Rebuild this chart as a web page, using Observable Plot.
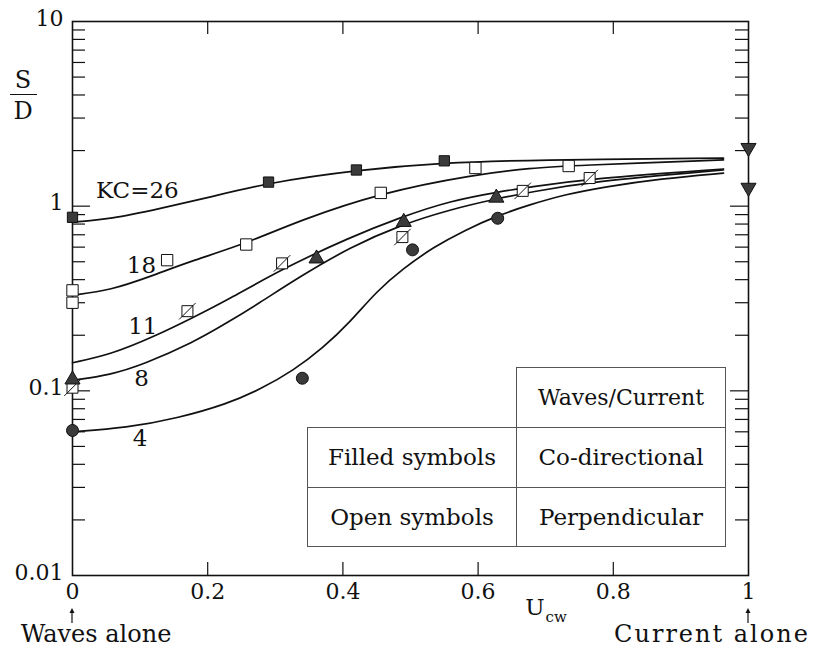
<!DOCTYPE html>
<html><head><meta charset="utf-8">
<script src="https://cdn.jsdelivr.net/npm/d3@7"></script>
<script src="https://cdn.jsdelivr.net/npm/@observablehq/plot@0.6"></script>
<style>
body{margin:0;background:#fff;}
#wrap{position:relative;width:813px;height:648px;font-family:"DejaVu Serif",serif;color:#111;overflow:hidden;}
.ov{position:absolute;white-space:nowrap;line-height:1;transform:translate(-50%,-50%);}
.cell{position:absolute;border:1px solid #555;box-sizing:border-box;display:flex;align-items:center;justify-content:center;font-size:23px;line-height:1;}
</style></head><body><div id="wrap"></div>
<script>
// ---- tick values and labels ----
const xTickValues = [0, 0.2, 0.4, 0.6, 0.8, 1];
const xTickLabels = ["0", "0.2", "0.4", "0.6", "0.8", "1"];
const yTickValues = [0.01, 0.1, 1, 10];
const yTickLabels = ["0.01", "0.1", "1", "10"];
const xInnerTicks = [0.2, 0.4, 0.6, 0.8];
const yMajorInner = [0.1, 1];
const yMinorTicks = [0.02,0.03,0.04,0.05,0.06,0.07,0.08,0.09,0.2,0.3,0.4,0.5,0.6,0.7,0.8,0.9,2,3,4,5,6,7,8,9];

// ---- fitted curves ----
const curveKC = [26, 18, 11, 8, 4];
const curve26X = [0, 0.056, 0.13, 0.204, 0.29, 0.42, 0.55, 0.68, 0.963];
const curve26Y = [0.82, 0.85, 0.97, 1.12, 1.34, 1.57, 1.72, 1.78, 1.82];
const curve18X = [0, 0.056, 0.118, 0.179, 0.253, 0.337, 0.456, 0.593, 0.68, 0.74, 0.963];
const curve18Y = [0.33, 0.35, 0.42, 0.51, 0.62, 0.84, 1.18, 1.48, 1.61, 1.66, 1.78];
const curve11X = [0, 0.056, 0.12, 0.179, 0.229, 0.31, 0.411, 0.485, 0.559, 0.633, 0.677, 0.766, 0.963];
const curve11Y = [0.142, 0.157, 0.196, 0.25, 0.31, 0.457, 0.68, 0.87, 1.07, 1.20, 1.27, 1.41, 1.59];
const curve8X = [0, 0.056, 0.105, 0.179, 0.229, 0.274, 0.337, 0.411, 0.485, 0.559, 0.629, 0.677, 0.766, 0.963];
const curve8Y = [0.114, 0.122, 0.139, 0.183, 0.234, 0.295, 0.417, 0.60, 0.79, 0.96, 1.10, 1.19, 1.36, 1.57];
const curve4X = [0, 0.08, 0.155, 0.229, 0.278, 0.327, 0.37, 0.41, 0.45, 0.49, 0.534, 0.58, 0.629, 0.677, 0.73, 0.786, 0.87, 0.963];
const curve4Y = [0.060, 0.063, 0.071, 0.085, 0.102, 0.129, 0.17, 0.234, 0.347, 0.462, 0.60, 0.74, 0.89, 1.02, 1.16, 1.27, 1.41, 1.51];

// ---- measured points ----
const kc26X = [0, 0.29, 0.42, 0.55];               // filled squares
const kc26Y = [0.87, 1.35, 1.57, 1.76];
const kc18X = [0, 0, 0.14, 0.257, 0.456, 0.596, 0.734];  // open squares
const kc18Y = [0.35, 0.30, 0.51, 0.62, 1.18, 1.61, 1.65];
const kc11X = [0, 0.17, 0.31, 0.488, 0.666, 0.765];      // slashed squares
const kc11Y = [0.104, 0.27, 0.49, 0.68, 1.21, 1.42];
const kc8X = [0, 0.361, 0.49, 0.627];               // filled triangles
const kc8Y = [0.115, 0.52, 0.82, 1.11];
const kc4X = [0, 0.34, 0.503, 0.629];               // filled circles
const kc4Y = [0.061, 0.117, 0.58, 0.86];
const currentAloneX = [1, 1];                       // filled down triangles
const currentAloneY = [2.07, 1.26];

// ---- curve labels ----
const kcLabels = ["KC=26", "18", "11", "8", "4"];
const kcLabelX = [0.096, 0.102, 0.104, 0.102, 0.10];
const kcLabelY = [1.22, 0.474, 0.222, 0.117, 0.055];

// ---- build tables ----
const curveXs = [curve26X, curve18X, curve11X, curve8X, curve4X];
const curveYs = [curve26Y, curve18Y, curve11Y, curve8Y, curve4Y];
const curveRows = curveKC.flatMap((kc, k) => curveXs[k].map((x, i) => ({kc, x, y: curveYs[k][i]})));
const pts = (X, Y) => X.map((x, i) => ({x, y: Y[i]}));
const labelRows = kcLabels.map((t, i) => ({t, x: kcLabelX[i], y: kcLabelY[i]}));

// ---- custom symbols ----
const slashSquare = {draw(ctx, size) {
  const s = Math.sqrt(size) / 2;
  ctx.moveTo(-s, -s); ctx.lineTo(s, -s); ctx.lineTo(s, s); ctx.lineTo(-s, s); ctx.closePath();
  ctx.moveTo(-s * 1.5, s * 1.5); ctx.lineTo(s * 1.5, -s * 1.5);
}};
const triDown = {draw(ctx, size) {
  const y = -Math.sqrt(size / (Math.sqrt(3) * 3)), r3 = Math.sqrt(3);
  ctx.moveTo(0, -y * 2); ctx.lineTo(-r3 * y, y); ctx.lineTo(r3 * y, y); ctx.closePath();
}};

const W = 813, H = 648, ML = 72, MR = 65, MT = 21, MB = 73;
const PW = W - ML - MR, PH = H - MT - MB;
const minorLen = 13, majorLen = 18;
const ink = "#111", filled = "#3a3a3a";

const chart = Plot.plot({
  width: W, height: H,
  marginLeft: ML, marginRight: MR, marginTop: MT, marginBottom: MB,
  style: {fontFamily: "DejaVu Serif", fontSize: "22px", color: ink, background: "#fff", overflow: "visible"},
  x: {domain: [0, 1], axis: null},
  y: {type: "log", domain: [0.01, 10], axis: null},
  marks: [
    Plot.tickY(yMinorTicks, {y: d => d, insetRight: PW - minorLen, stroke: ink, strokeWidth: 1.2}),
    Plot.tickY(yMinorTicks, {y: d => d, insetLeft: PW - minorLen, stroke: ink, strokeWidth: 1.2}),
    Plot.tickY(yMajorInner, {y: d => d, insetRight: PW - majorLen, stroke: ink, strokeWidth: 1.2}),
    Plot.tickY(yMajorInner, {y: d => d, insetLeft: PW - majorLen, stroke: ink, strokeWidth: 1.2}),
    Plot.tickX(xInnerTicks, {x: d => d, insetBottom: PH - minorLen, stroke: ink, strokeWidth: 1.2}),
    Plot.tickX(xInnerTicks, {x: d => d, insetTop: PH - minorLen, stroke: ink, strokeWidth: 1.2}),
    Plot.frame({stroke: ink, strokeWidth: 1.6}),
    Plot.axisX({ticks: xTickValues, tickSize: 0, tickPadding: 8, label: null, fontSize: 22,
      tickFormat: d => xTickLabels[xTickValues.indexOf(d)]}),
    Plot.axisY({ticks: yTickValues, tickSize: 0, tickPadding: 9, dy: -3, label: null, fontSize: 22,
      tickFormat: d => yTickLabels[yTickValues.indexOf(d)]}),
    Plot.line(curveRows, {x: "x", y: "y", z: "kc", curve: "basis", stroke: ink, strokeWidth: 1.7}),
    Plot.dot(pts(kc26X, kc26Y), {x: "x", y: "y", symbol: "square", r: 5.8, fill: filled, stroke: ink, strokeWidth: 1}),
    Plot.dot(pts(kc18X, kc18Y), {x: "x", y: "y", symbol: "square", r: 6.4, fill: "#fff", stroke: ink, strokeWidth: 1}),
    Plot.dot(pts(kc11X, kc11Y), {x: "x", y: "y", symbol: slashSquare, r: 6.2, fill: "#fff", stroke: ink, strokeWidth: 1}),
    Plot.dot(pts(kc8X, kc8Y), {x: "x", y: "y", symbol: "triangle", r: 5.6, fill: filled, stroke: ink, strokeWidth: 1}),
    Plot.dot(pts(kc4X, kc4Y), {x: "x", y: "y", symbol: "circle", r: 6, fill: filled, stroke: ink, strokeWidth: 1}),
    Plot.dot(pts(currentAloneX, currentAloneY), {x: "x", y: "y", symbol: triDown, r: 5.6, fill: filled, stroke: ink, strokeWidth: 1}),
    Plot.text(labelRows, {x: "x", y: "y", text: "t", fontSize: 23, fill: ink, textAnchor: "middle"})
  ]
});

const wrap = document.getElementById("wrap");
wrap.appendChild(chart);

function ov(html, cx, cy, style) {
  const d = document.createElement("div");
  d.className = "ov";
  d.innerHTML = html;
  d.style.left = cx + "px"; d.style.top = cy + "px";
  Object.assign(d.style, style || {});
  wrap.appendChild(d);
  return d;
}
function cell(text, l, t, w, h, fs) {
  const d = document.createElement("div");
  d.className = "cell";
  d.textContent = text;
  Object.assign(d.style, {left: l + "px", top: t + "px", width: w + "px", height: h + "px"});
  if (fs) d.style.fontSize = fs + "px";
  wrap.appendChild(d);
}
function arrowUp(cx, top, bottom) {
  const ns = "http://www.w3.org/2000/svg";
  const s = document.createElementNS(ns, "svg");
  s.setAttribute("width", 10); s.setAttribute("height", bottom - top + 2);
  Object.assign(s.style, {position: "absolute", left: (cx - 5) + "px", top: (top - 1) + "px", overflow: "visible"});
  const h = bottom - top;
  s.innerHTML = `<line x1="5" y1="${h + 1}" x2="5" y2="4" stroke="#111" stroke-width="1.2"/>` +
                `<path d="M5,1 L2.5,6 L7.5,6 Z" fill="#111"/>`;
  wrap.appendChild(s);
}

// y label S/D
ov("S", 23, 80, {fontSize: "24px"});
const bar = document.createElement("div");
Object.assign(bar.style, {position: "absolute", left: "10px", top: "94px", width: "27px", height: "0", borderTop: "1.6px solid #111"});
wrap.appendChild(bar);
ov("D", 23, 111, {fontSize: "24px"});

// x label U_cw
ov("U<span style='font-size:15px;position:relative;top:7px;margin-left:1px'>cw</span>", 546, 607, {fontSize: "23px"});

// end annotations
arrowUp(72, 608, 623);
ov("Waves alone", 96, 634, {fontSize: "24px"});
arrowUp(748, 608, 623);
ov("Current alone", 712, 634, {fontSize: "24px", letterSpacing: "2px"});

// legend table
cell("Waves/Current", 516, 367, 210, 61, 22);
cell("Filled symbols", 307, 427, 210, 61);
cell("Co-directional", 516, 427, 210, 61);
cell("Open symbols", 307, 487, 210, 60);
cell("Perpendicular", 516, 487, 210, 60);
</script></body></html>
